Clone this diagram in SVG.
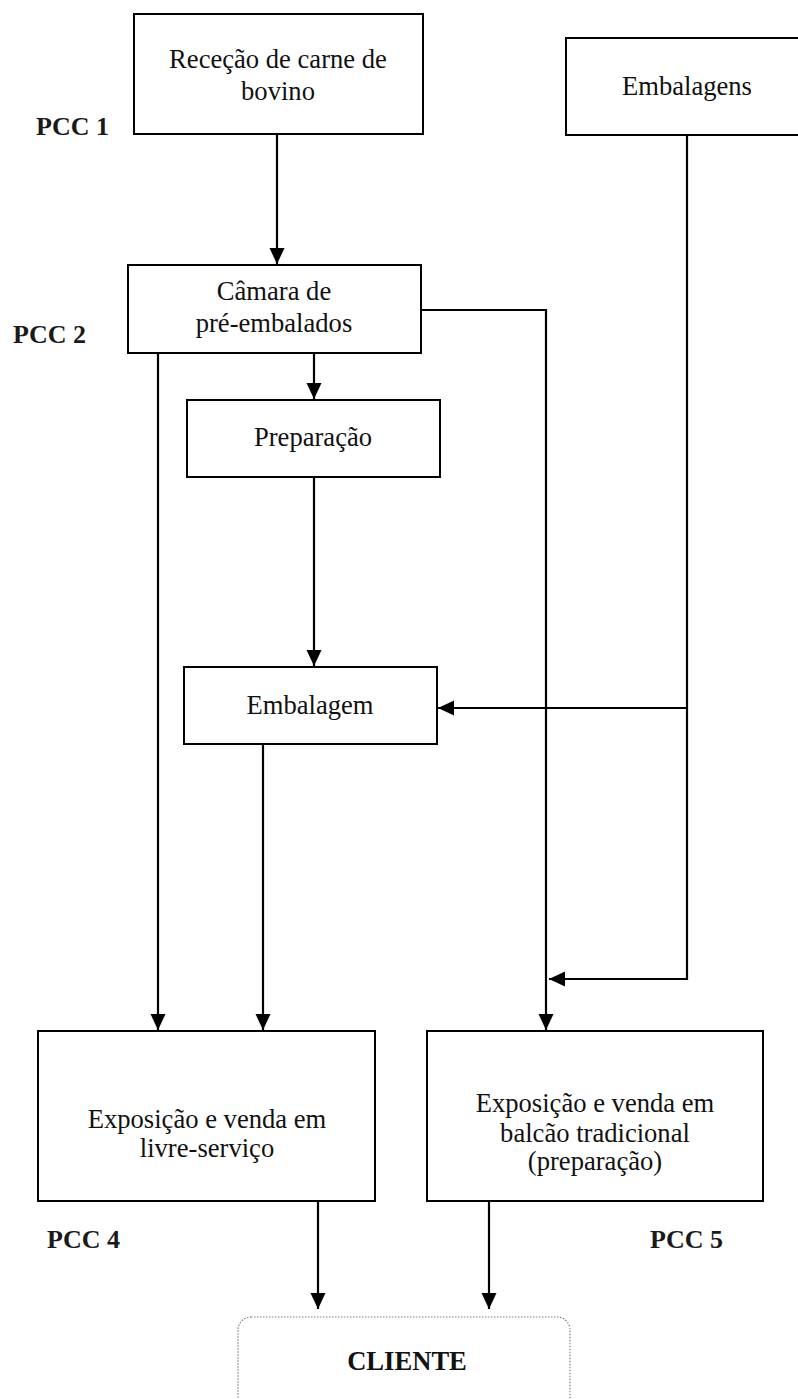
<svg xmlns="http://www.w3.org/2000/svg" width="798" height="1399" viewBox="0 0 798 1399">
  <style>
    .box { fill: #ffffff; stroke: #000000; stroke-width: 2; }
    .term { fill: #ffffff; stroke: #808080; stroke-width: 1.2; stroke-dasharray: 1.5 1.5; }
    .lbl { font-family: "Liberation Serif", "Times New Roman", serif; font-size: 26.6px; fill: #111111; text-anchor: middle; }
    .pcc { font-family: "Liberation Serif", "Times New Roman", serif; font-size: 26px; font-weight: bold; fill: #1a1a1a; }
    .bold { font-weight: bold; }
    .wire { fill: none; stroke: #000000; stroke-width: 2.2; }
  </style>
  <defs>
    <marker id="arrow" markerUnits="userSpaceOnUse" markerWidth="17" markerHeight="16" refX="16" refY="7.5" orient="auto">
      <path d="M0,0 L16,7.5 L0,15 z" fill="#000000"/>
    </marker>
  </defs>

  <rect width="798" height="1399" fill="#ffffff"/>

  <!-- process steps -->
  <g id="rececao">
    <rect class="box" x="134" y="14" width="289" height="120"/>
    <text class="lbl" x="278" y="68">Receção de carne de</text>
    <text class="lbl" x="278" y="100">bovino</text>
  </g>
  <g id="embalagens">
    <rect class="box" x="566" y="38" width="250" height="97"/>
    <text class="lbl" x="687" y="95">Embalagens</text>
  </g>
  <g id="camara">
    <rect class="box" x="128" y="265" width="293" height="88"/>
    <text class="lbl" x="274" y="300">Câmara de</text>
    <text class="lbl" x="274" y="332">pré-embalados</text>
  </g>
  <g id="preparacao">
    <rect class="box" x="187" y="400" width="253" height="77"/>
    <text class="lbl" x="313" y="446">Preparação</text>
  </g>
  <g id="embalagem">
    <rect class="box" x="184" y="667" width="253" height="77"/>
    <text class="lbl" x="310" y="714">Embalagem</text>
  </g>
  <g id="livre-servico">
    <rect class="box" x="38" y="1031" width="337" height="170"/>
    <text class="lbl" x="207" y="1128">Exposição e venda em</text>
    <text class="lbl" x="207" y="1157">livre-serviço</text>
  </g>
  <g id="balcao">
    <rect class="box" x="427" y="1031" width="336" height="170"/>
    <text class="lbl" x="595" y="1112">Exposição e venda em</text>
    <text class="lbl" x="595" y="1142">balcão tradicional</text>
    <text class="lbl" x="595" y="1170">(preparação)</text>
  </g>
  <g id="cliente">
    <rect class="term" x="238" y="1317" width="332" height="100" rx="13" ry="13"/>
    <text class="lbl bold" x="407" y="1370">CLIENTE</text>
  </g>

  <!-- critical control point labels -->
  <g id="pcc-labels">
    <text class="pcc" x="36" y="135">PCC 1</text>
    <text class="pcc" x="13" y="343">PCC 2</text>
    <text class="pcc" x="47" y="1248">PCC 4</text>
    <text class="pcc" x="650" y="1248">PCC 5</text>
  </g>

  <!-- connectors -->
  <g id="connectors">
    <path class="wire" d="M277,134 V264" marker-end="url(#arrow)"/>
    <path class="wire" d="M421,310 H546 V1030" marker-end="url(#arrow)"/>
    <path class="wire" d="M158,353 V1030" marker-end="url(#arrow)"/>
    <path class="wire" d="M314,353 V399" marker-end="url(#arrow)"/>
    <path class="wire" d="M314,477 V666" marker-end="url(#arrow)"/>
    <path class="wire" d="M263,744 V1030" marker-end="url(#arrow)"/>
    <path class="wire" d="M687,135 V979 H549" marker-end="url(#arrow)"/>
    <path class="wire" d="M687,708 H438" marker-end="url(#arrow)"/>
    <path class="wire" d="M318,1201 V1309" marker-end="url(#arrow)"/>
    <path class="wire" d="M489,1201 V1309" marker-end="url(#arrow)"/>
  </g>
</svg>
